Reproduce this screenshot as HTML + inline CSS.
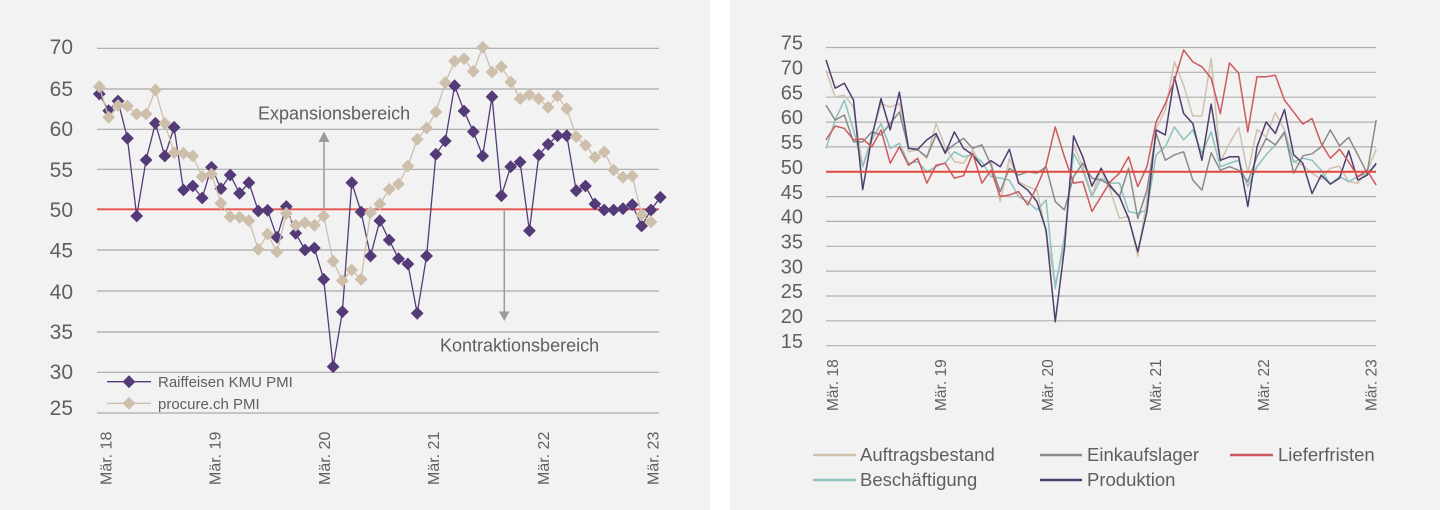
<!DOCTYPE html>
<html><head><meta charset="utf-8"><style>
html,body{margin:0;padding:0;background:#fff;}
svg{display:block;}
text{font-family:"Liberation Sans",sans-serif;fill:#5f5f5f;}
</style></head><body>
<svg width="1440" height="510" viewBox="0 0 1440 510" xmlns="http://www.w3.org/2000/svg">
<defs>
<path id="pd" d="M0,-6.4 L6.4,0 L0,6.4 L-6.4,0 Z" fill="#553a78"/>
<path id="td" d="M0,-6.4 L6.4,0 L0,6.4 L-6.4,0 Z" fill="#cdbfab"/>
</defs>
<rect x="0" y="0" width="1440" height="510" fill="#ffffff"/>
<rect x="0" y="0" width="710" height="510" fill="#f2f2f2"/>
<rect x="730" y="0" width="710" height="510" fill="#f2f2f2"/>

<!-- LEFT CHART -->
<g stroke="#a9a9a9" stroke-width="1.2">
<line x1="97" y1="48.3" x2="659" y2="48.3"/>
<line x1="97" y1="89" x2="659" y2="89"/>
<line x1="97" y1="129.3" x2="659" y2="129.3"/>
<line x1="97" y1="169.3" x2="659" y2="169.3"/>
<line x1="97" y1="250" x2="659" y2="250"/>
<line x1="97" y1="291" x2="659" y2="291"/>
<line x1="97" y1="332" x2="659" y2="332"/>
<line x1="97" y1="372.3" x2="659" y2="372.3"/>
<line x1="97" y1="413" x2="659" y2="413"/>
</g>
<line x1="97" y1="209.3" x2="659" y2="209.3" stroke="#e8504c" stroke-width="1.8"/>

<g font-size="21" text-anchor="end">
<text x="73" y="54.2">70</text>
<text x="73" y="95.8">65</text>
<text x="73" y="135.8">60</text>
<text x="73" y="176.8">55</text>
<text x="73" y="216.8">50</text>
<text x="73" y="257.5">45</text>
<text x="73" y="299.2">40</text>
<text x="73" y="339.2">35</text>
<text x="73" y="379.2">30</text>
<text x="73" y="415">25</text>
</g>

<g font-size="16">
<text transform="translate(111.5,485) rotate(-90)">Mär. 18</text>
<text transform="translate(220.5,485) rotate(-90)">Mär. 19</text>
<text transform="translate(330,485) rotate(-90)">Mär. 20</text>
<text transform="translate(439,485) rotate(-90)">Mär. 21</text>
<text transform="translate(549,485) rotate(-90)">Mär. 22</text>
<text transform="translate(658.3,485) rotate(-90)">Mär. 23</text>
</g>

<!-- arrows -->
<line x1="324" y1="209" x2="324" y2="140" stroke="#9a9a9a" stroke-width="1.5"/>
<path d="M318.5,142 L324,131.5 L329.5,142 Z" fill="#9a9a9a"/>
<line x1="504.3" y1="209" x2="504.3" y2="313" stroke="#9a9a9a" stroke-width="1.5"/>
<path d="M499,311.5 L504.3,321 L509.5,311.5 Z" fill="#9a9a9a"/>
<text x="258" y="119.5" font-size="18" fill="#666">Expansionsbereich</text>
<text x="440" y="351.5" font-size="18" fill="#666">Kontraktionsbereich</text>

<!-- purple series -->
<polyline fill="none" stroke="#553a78" stroke-width="1.3" points="99.3,94 108.7,110.7 118,101 127.4,138.3 136.7,216 146.1,160 155.4,123.3 164.8,156 174.1,127.3 183.5,190 192.8,186 202.2,198 211.5,167.3 220.9,188.7 230.2,175 239.6,193.3 248.9,182.7 258.3,211 267.6,210.3 277,237.3 286.3,206.5 295.7,233.3 305,250 314.4,248 323.7,279.3 333.1,366.7 342.4,311.7 351.8,182.7 361.1,212 370.5,256 379.8,220.7 389.2,240 398.5,258.7 407.9,264 417.2,313.3 426.6,256 435.9,154.3 445.3,141 454.6,85.7 464,111 473.3,131.7 482.7,156 492,96.7 501.4,195.7 510.7,166.7 520.1,162 529.4,230.7 538.8,155 548.1,144.3 557.5,135.7 566.8,135.7 576.2,190.7 585.5,186 594.9,204 604.2,210 613.6,210 622.9,208.7 632.3,204.7 641.6,226 651,210 660.3,197.3"/>
<g>
<use href="#pd" x="99.3" y="94"/><use href="#pd" x="108.7" y="110.7"/><use href="#pd" x="118" y="101"/><use href="#pd" x="127.4" y="138.3"/><use href="#pd" x="136.7" y="216"/><use href="#pd" x="146.1" y="160"/><use href="#pd" x="155.4" y="123.3"/><use href="#pd" x="164.8" y="156"/><use href="#pd" x="174.1" y="127.3"/><use href="#pd" x="183.5" y="190"/><use href="#pd" x="192.8" y="186"/><use href="#pd" x="202.2" y="198"/><use href="#pd" x="211.5" y="167.3"/><use href="#pd" x="220.9" y="188.7"/><use href="#pd" x="230.2" y="175"/><use href="#pd" x="239.6" y="193.3"/><use href="#pd" x="248.9" y="182.7"/><use href="#pd" x="258.3" y="211"/><use href="#pd" x="267.6" y="210.3"/><use href="#pd" x="277" y="237.3"/><use href="#pd" x="286.3" y="206.5"/><use href="#pd" x="295.7" y="233.3"/><use href="#pd" x="305" y="250"/><use href="#pd" x="314.4" y="248"/><use href="#pd" x="323.7" y="279.3"/><use href="#pd" x="333.1" y="366.7"/><use href="#pd" x="342.4" y="311.7"/><use href="#pd" x="351.8" y="182.7"/><use href="#pd" x="361.1" y="212"/><use href="#pd" x="370.5" y="256"/><use href="#pd" x="379.8" y="220.7"/><use href="#pd" x="389.2" y="240"/><use href="#pd" x="398.5" y="258.7"/><use href="#pd" x="407.9" y="264"/><use href="#pd" x="417.2" y="313.3"/><use href="#pd" x="426.6" y="256"/><use href="#pd" x="435.9" y="154.3"/><use href="#pd" x="445.3" y="141"/><use href="#pd" x="454.6" y="85.7"/><use href="#pd" x="464" y="111"/><use href="#pd" x="473.3" y="131.7"/><use href="#pd" x="482.7" y="156"/><use href="#pd" x="492" y="96.7"/><use href="#pd" x="501.4" y="195.7"/><use href="#pd" x="510.7" y="166.7"/><use href="#pd" x="520.1" y="162"/><use href="#pd" x="529.4" y="230.7"/><use href="#pd" x="538.8" y="155"/><use href="#pd" x="548.1" y="144.3"/><use href="#pd" x="557.5" y="135.7"/><use href="#pd" x="566.8" y="135.7"/><use href="#pd" x="576.2" y="190.7"/><use href="#pd" x="585.5" y="186"/><use href="#pd" x="594.9" y="204"/><use href="#pd" x="604.2" y="210"/><use href="#pd" x="613.6" y="210"/><use href="#pd" x="622.9" y="208.7"/><use href="#pd" x="632.3" y="204.7"/><use href="#pd" x="641.6" y="226"/><use href="#pd" x="651" y="210"/><use href="#pd" x="660.3" y="197.3"/>
</g>

<!-- tan series -->
<polyline fill="none" stroke="#cdbfab" stroke-width="1.3" points="99.3,86.7 108.7,117.3 118,105.5 127.4,106 136.7,114 146.1,114 155.4,90 164.8,123.3 174.1,152.7 183.5,153.3 192.8,156 202.2,176.7 211.5,174 220.9,203.3 230.2,216.7 239.6,217.3 248.9,220.7 258.3,249.3 267.6,234 277,252 286.3,213.3 295.7,225.3 305,222.7 314.4,225.3 323.7,216 333.1,261.3 342.4,280.7 351.8,270 361.1,279.3 370.5,212.7 379.8,204 389.2,189.3 398.5,184 407.9,166 417.2,139.3 426.6,128 435.9,112 445.3,82.7 454.6,61.3 464,58.7 473.3,71.3 482.7,47.3 492,72 501.4,66.7 510.7,82 520.1,98.7 529.4,94.7 538.8,98.7 548.1,107.3 557.5,96 566.8,108.7 576.2,136.7 585.5,145.3 594.9,157.3 604.2,152 613.6,170 622.9,177.3 632.3,176 641.6,214.7 651,222"/>
<g>
<use href="#td" x="99.3" y="86.7"/><use href="#td" x="108.7" y="117.3"/><use href="#td" x="118" y="105.5"/><use href="#td" x="127.4" y="106"/><use href="#td" x="136.7" y="114"/><use href="#td" x="146.1" y="114"/><use href="#td" x="155.4" y="90"/><use href="#td" x="164.8" y="123.3"/><use href="#td" x="174.1" y="152.7"/><use href="#td" x="183.5" y="153.3"/><use href="#td" x="192.8" y="156"/><use href="#td" x="202.2" y="176.7"/><use href="#td" x="211.5" y="174"/><use href="#td" x="220.9" y="203.3"/><use href="#td" x="230.2" y="216.7"/><use href="#td" x="239.6" y="217.3"/><use href="#td" x="248.9" y="220.7"/><use href="#td" x="258.3" y="249.3"/><use href="#td" x="267.6" y="234"/><use href="#td" x="277" y="252"/><use href="#td" x="286.3" y="213.3"/><use href="#td" x="295.7" y="225.3"/><use href="#td" x="305" y="222.7"/><use href="#td" x="314.4" y="225.3"/><use href="#td" x="323.7" y="216"/><use href="#td" x="333.1" y="261.3"/><use href="#td" x="342.4" y="280.7"/><use href="#td" x="351.8" y="270"/><use href="#td" x="361.1" y="279.3"/><use href="#td" x="370.5" y="212.7"/><use href="#td" x="379.8" y="204"/><use href="#td" x="389.2" y="189.3"/><use href="#td" x="398.5" y="184"/><use href="#td" x="407.9" y="166"/><use href="#td" x="417.2" y="139.3"/><use href="#td" x="426.6" y="128"/><use href="#td" x="435.9" y="112"/><use href="#td" x="445.3" y="82.7"/><use href="#td" x="454.6" y="61.3"/><use href="#td" x="464" y="58.7"/><use href="#td" x="473.3" y="71.3"/><use href="#td" x="482.7" y="47.3"/><use href="#td" x="492" y="72"/><use href="#td" x="501.4" y="66.7"/><use href="#td" x="510.7" y="82"/><use href="#td" x="520.1" y="98.7"/><use href="#td" x="529.4" y="94.7"/><use href="#td" x="538.8" y="98.7"/><use href="#td" x="548.1" y="107.3"/><use href="#td" x="557.5" y="96"/><use href="#td" x="566.8" y="108.7"/><use href="#td" x="576.2" y="136.7"/><use href="#td" x="585.5" y="145.3"/><use href="#td" x="594.9" y="157.3"/><use href="#td" x="604.2" y="152"/><use href="#td" x="613.6" y="170"/><use href="#td" x="622.9" y="177.3"/><use href="#td" x="632.3" y="176"/><use href="#td" x="641.6" y="214.7"/><use href="#td" x="651" y="222"/>
</g>

<!-- left legend -->
<line x1="107" y1="381.7" x2="151" y2="381.7" stroke="#553a78" stroke-width="1.3"/>
<use href="#pd" x="129" y="381.7"/>
<line x1="107" y1="403.3" x2="151" y2="403.3" stroke="#cdbfab" stroke-width="1.3"/>
<use href="#td" x="129" y="403.3"/>
<text x="158" y="387.2" font-size="15">Raiffeisen KMU PMI</text>
<text x="158" y="408.8" font-size="15">procure.ch PMI</text>

<!-- RIGHT CHART -->
<g stroke="#b0b0b0" stroke-width="1.2">
<line x1="826" y1="47.5" x2="1376" y2="47.5"/>
<line x1="826" y1="72.3" x2="1376" y2="72.3"/>
<line x1="826" y1="97.2" x2="1376" y2="97.2"/>
<line x1="826" y1="122.1" x2="1376" y2="122.1"/>
<line x1="826" y1="146.9" x2="1376" y2="146.9"/>
<line x1="826" y1="196.6" x2="1376" y2="196.6"/>
<line x1="826" y1="221.4" x2="1376" y2="221.4"/>
<line x1="826" y1="246.3" x2="1376" y2="246.3"/>
<line x1="826" y1="271.1" x2="1376" y2="271.1"/>
<line x1="826" y1="296" x2="1376" y2="296"/>
<line x1="826" y1="320.8" x2="1376" y2="320.8"/>
<line x1="826" y1="345.7" x2="1376" y2="345.7"/>
</g>

<g font-size="20" text-anchor="end">
<text x="803" y="49.7">75</text>
<text x="803" y="74.5">70</text>
<text x="803" y="99.4">65</text>
<text x="803" y="124.2">60</text>
<text x="803" y="149.1">55</text>
<text x="803" y="173.9">50</text>
<text x="803" y="198.8">45</text>
<text x="803" y="223.6">40</text>
<text x="803" y="248.5">35</text>
<text x="803" y="273.3">30</text>
<text x="803" y="298.2">25</text>
<text x="803" y="323">20</text>
<text x="803" y="347.9">15</text>
</g>

<g font-size="15.5">
<text transform="translate(838,411) rotate(-90)">Mär. 18</text>
<text transform="translate(946,411) rotate(-90)">Mär. 19</text>
<text transform="translate(1053,411) rotate(-90)">Mär. 20</text>
<text transform="translate(1161,411) rotate(-90)">Mär. 21</text>
<text transform="translate(1269,411) rotate(-90)">Mär. 22</text>
<text transform="translate(1376.5,411) rotate(-90)">Mär. 23</text>
</g>

<g transform="translate(826,420.2) scale(9.17,-4.97)" fill="none" stroke-linejoin="round">
<polyline vector-effect="non-scaling-stroke" stroke="#cfc1ae" stroke-width="1.5" points="0,70.4 1,65 2,65.4 3,63 4,51 5,57.4 6,63.7 7,63 8,63.7 9,54 10,54.4 11,52.7 12,59.7 13,55 14,52 15,51.7 16,54.4 17,51 18,52 19,44 20,52.7 21,48 22,47 23,46.3 24,37.6 25,27.5 26,35 27,55.4 28,51 29,45.3 30,50.3 31,46.3 32,40.6 33,41 34,33 35,44.3 36,58.7 37,62.4 38,72.1 39,67.4 40,61.2 41,61.2 42,72.8 43,52 44,55.7 45,58.9 46,49.7 47,58.5 48,57 49,61.9 50,58.4 51,52 52,51.3 53,49.7 54,48.5 55,50.7 56,51.1 57,48 58,47.7 59,50 60,54.5"/>
<polyline vector-effect="non-scaling-stroke" stroke="#8cc3bd" stroke-width="1.5" points="0,54.7 1,60.4 2,64.4 3,58.4 4,51 5,56.4 6,59.7 7,54.7 8,55.7 9,51.7 10,52 11,50 12,51 13,51.8 14,54 15,53 16,53.4 17,52 18,49 19,48.7 20,48.3 21,45 22,44 23,42.3 24,44.3 25,26.5 26,36.9 27,53.7 28,50.3 29,45 30,48.7 31,47.7 32,47.7 33,42 34,41.6 35,42.3 36,53.4 37,55 38,59 39,56.4 40,58.4 41,53.7 42,58 43,51 44,51.7 45,52.3 46,47 47,51 48,53.4 49,55.4 50,57.7 51,52 52,52.7 53,52.3 54,50.3 55,47.5 56,49 57,48 58,49 59,49.7 60,51.3"/>
<polyline vector-effect="non-scaling-stroke" stroke="#8a8a8a" stroke-width="1.5" points="0,63.4 1,60.4 2,61.4 3,56 4,56 5,58 6,57.4 7,59.7 8,62 9,54.7 10,54.4 11,53 12,57.4 13,54 14,55.5 15,56.7 16,54.7 17,55.4 18,51.3 19,46 20,50.7 21,49.3 22,50 23,49.7 24,51 25,44 26,42.3 27,49 28,51.7 29,48.7 30,48.3 31,47.3 32,45 33,50.7 34,40.6 35,46.3 36,57.7 37,52.3 38,53.4 39,54 40,48.3 41,46.3 42,53.8 43,50.3 44,51 45,50.3 46,48 47,53 48,56.7 49,55.4 50,58 51,49.7 52,53.2 53,53.6 54,55 55,58.4 56,55.2 57,56.9 58,53.4 59,49.7 60,60.4"/>
<polyline vector-effect="non-scaling-stroke" stroke="#4f3d6e" stroke-width="1.5" points="0,72.5 1,66.8 2,67.8 3,64.4 4,46.4 5,57 6,64.7 7,58.4 8,66 9,54.7 10,54.5 11,56.4 12,57.7 13,53.7 14,58 15,54.7 16,53.4 17,51 18,52.2 19,51 20,54.5 21,47.7 22,46.3 23,44 24,38.3 25,19.8 26,34.6 27,57.2 28,53 29,47.1 30,50.7 31,47 32,45 33,40.6 34,33.9 35,42 36,58.4 37,57.4 38,69.1 39,61.7 40,59.7 41,52.3 42,63.6 43,52.3 44,53 45,53 46,43 47,55 48,60 49,57.7 50,62.5 51,53.4 52,51.7 53,45.6 54,49.3 55,47.5 56,48.7 57,54.2 58,48.3 59,49.3 60,51.7"/>
<polyline vector-effect="non-scaling-stroke" stroke="#cc5a5e" stroke-width="1.5" points="0,56.4 1,59.2 2,58.7 3,56.4 4,56.6 5,55 6,58.4 7,51.7 8,55 9,51.3 10,52.7 11,47.7 12,51.3 13,51.7 14,48.7 15,49.2 16,53.7 17,47.7 18,50.3 19,45 20,45.3 21,46 22,43.3 23,47 24,51.3 25,59 26,53 27,47.7 28,48 29,42 30,45 31,48 32,49.7 33,53 34,47 35,51 36,60 37,63.7 38,68.4 39,74.5 40,72.1 41,71.1 42,68.8 43,61.7 44,71.9 45,69.8 46,58 47,69.1 48,69.1 49,69.4 50,64.4 51,62 52,59.6 53,60.7 54,55.7 55,52.7 56,54.5 57,52 58,49 59,50.3 60,47.3"/>
</g>
<line x1="826" y1="171.7" x2="1376" y2="171.7" stroke="#e0483f" stroke-width="2"/>

<!-- right legend -->
<g stroke-width="2.5">
<line x1="813" y1="455" x2="856" y2="455" stroke="#cfc1ae"/>
<line x1="1040" y1="455" x2="1082" y2="455" stroke="#8a8a8a"/>
<line x1="1230" y1="455" x2="1273" y2="455" stroke="#cc5a5e"/>
<line x1="813" y1="480" x2="856" y2="480" stroke="#8cc3bd"/>
<line x1="1040" y1="480" x2="1082" y2="480" stroke="#4f3d6e"/>
</g>
<g font-size="18.5">
<text x="860" y="461">Auftragsbestand</text>
<text x="1087" y="461">Einkaufslager</text>
<text x="1278" y="461">Lieferfristen</text>
<text x="860" y="486">Beschäftigung</text>
<text x="1087" y="486">Produktion</text>
</g>
</svg>
</body></html>
